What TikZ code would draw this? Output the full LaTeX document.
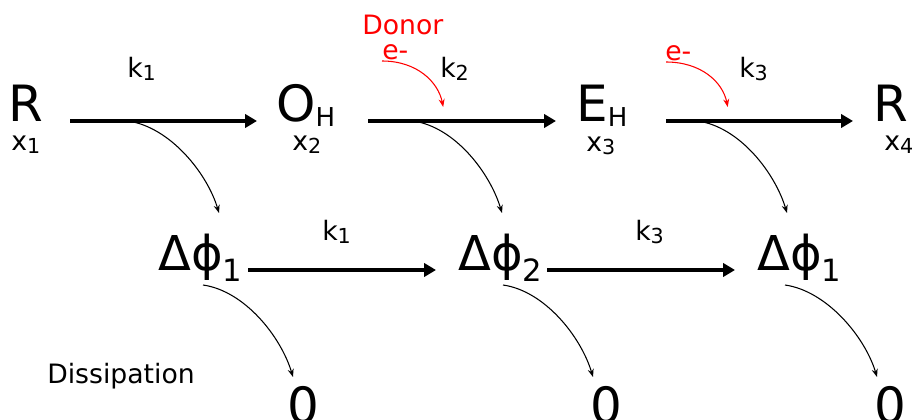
\documentclass[tikz,border=0pt]{standalone}
\usepackage{fontspec}
\setmainfont{DejaVu Sans}
\usetikzlibrary{arrows.meta}
\definecolor{DonorRed}{HTML}{FF0000}

\newcommand{\spsub}[1]{\raisebox{-3.75pt}{\fontsize{19.5pt}{20pt}\selectfont #1}}
\newcommand{\phisub}[1]{\raisebox{-8.5pt}{\fontsize{23pt}{24pt}\selectfont #1}}
\newcommand{\lbsub}[1]{\raisebox{-2pt}{\fontsize{15.5pt}{16pt}\selectfont #1}}

\begin{document}
\begin{tikzpicture}[
  x=0.75pt, y=-0.75pt,
  species/.style={inner sep=0pt, anchor=base west, font=\fontsize{37.5pt}{40pt}\selectfont},
  potential/.style={species, font=\fontsize{36pt}{38pt}\selectfont},
  lbl/.style={inner sep=0pt, anchor=base west, font=\fontsize{20pt}{22pt}\selectfont},
  donor/.style={lbl, text=DonorRed},
  arr/.style={-{Triangle[length=9pt, width=10pt]}, line width=2.4pt},
  branch/.style={-{Stealth[length=6pt, width=4.5pt]}, line width=0.8pt},
  feed/.style={branch, draw=DonorRed},
]
\useasboundingbox (0,0) rectangle (913,420);

% --- species, top row ---
\node[species] (R1) at (8,122) {R};
\node[species] (OH) at (276,122) {O\spsub{H}};
\node[species] (EH) at (576,122) {E\spsub{H}};
\node[species] (R2) at (873,122) {R};

\node[lbl] (x1) at (11,151) {x\lbsub{1}};
\node[lbl] (x2) at (292,151) {x\lbsub{2}};
\node[lbl] (x3) at (586,152) {x\lbsub{3}};
\node[lbl] (x4) at (884,151) {x\lbsub{4}};

% --- potentials and sinks ---
\node[potential] (dphi1) at (158,270) {Δϕ\phisub{1}};
\node[potential] (dphi2) at (458,270) {Δϕ\phisub{2}};
\node[potential] (dphi3) at (757,270) {Δϕ\phisub{1}};

\node[species] (zero1) at (287,423) {0};
\node[species] (zero2) at (590,423) {0};
\node[species] (zero3) at (874,423) {0};

\node[lbl] (diss) at (47,383) {Dissipation};

% --- rate labels ---
\node[lbl] (k1top) at (127,78) {k\lbsub{1}};
\node[lbl] (k2top) at (440,78) {k\lbsub{2}};
\node[lbl] (k3top) at (739,78) {k\lbsub{3}};
\node[lbl] (k1bot) at (322,241) {k\lbsub{1}};
\node[lbl] (k3bot) at (635,241) {k\lbsub{3}};

% --- donor electrons ---
\node[donor] (donor) at (362,35) {Donor};
\node[donor] (eA) at (382,60) {e-};
\node[donor] (eB) at (665,61) {e-};

% --- main arrows ---
\draw[arr] ([shift={(62,-1)}]R1.base west) -- coordinate[pos=0.31] (b1)
  ([shift={(-19,-1)}]OH.base west);
\draw[arr] ([shift={(92,-1)}]OH.base west) -- coordinate[pos=0.24] (b2) coordinate[pos=0.40] (d2)
  ([shift={(-20,-1)}]EH.base west);
\draw[arr] ([shift={(90,-1)}]EH.base west) -- coordinate[pos=0.17] (b3) coordinate[pos=0.33] (d3)
  ([shift={(-20,-1)}]R2.base west);
\draw[arr] ([shift={(90,0)}]dphi1.base west) -- ([shift={(-22,0)}]dphi2.base west);
\draw[arr] ([shift={(89,0)}]dphi2.base west) -- ([shift={(-22,0)}]dphi3.base west);

% --- branches to the potentials ---
\draw[branch] (b1) .. controls +(42,6) and +(-12,-40) .. ([shift={(61,-57)}]dphi1.base west);
\draw[branch] (b2) .. controls +(42,6) and +(-12,-40) .. ([shift={(44,-57)}]dphi2.base west);
\draw[branch] (b3) .. controls +(42,6) and +(-12,-40) .. ([shift={(30,-57)}]dphi3.base west);

% --- dissipation ---
\draw[branch] ([shift={(45,15)}]dphi1.base west) .. controls +(42,6) and +(-12,-40) .. ([shift={(6,-46)}]zero1.base west);
\draw[branch] ([shift={(45,15)}]dphi2.base west) .. controls +(42,6) and +(-12,-40) .. ([shift={(3,-46)}]zero2.base west);
\draw[branch] ([shift={(28,15)}]dphi3.base west) .. controls +(42,6) and +(-12,-40) .. ([shift={(3,-46)}]zero3.base west);

% --- electron feeds ---
\draw[feed] ([shift={(0,1)}]eA.base west) .. controls +(35,0) and +(-5,-25) .. ([shift={(0,-14)}]d2);
\draw[feed] ([shift={(1,1)}]eB.base west) .. controls +(35,0) and +(-5,-25) .. ([shift={(0,-14)}]d3);

\end{tikzpicture}
\end{document}
